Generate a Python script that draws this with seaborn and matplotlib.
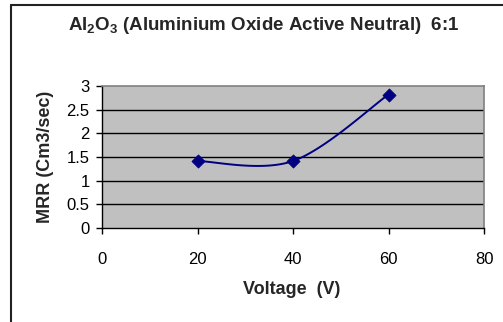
import numpy as np
import pandas as pd
import matplotlib
matplotlib.use("Agg")
import matplotlib.pyplot as plt
import seaborn as sns

voltage = [20, 40, 60]
mrr = [1.415, 1.415, 2.82]
x_ticks = [0, 20, 40, 60, 80]
y_ticks = [0, 0.5, 1, 1.5, 2, 2.5, 3]
title = r"Al$_2$O$_3$ (Aluminium Oxide Active Neutral)  6:1"
x_label = "Voltage  (V)"
y_label = "MRR (Cm3/sec)"

sns.set_theme(style="white")
plt.rcParams['font.family'] = ['Liberation Sans', 'DejaVu Sans']
plt.rcParams['mathtext.fontset'] = 'custom'
plt.rcParams['mathtext.rm'] = 'Liberation Sans:bold'
plt.rcParams['mathtext.it'] = 'Liberation Sans:bold'
plt.rcParams['mathtext.bf'] = 'Liberation Sans:bold'


def excel_smooth(xs, ys, n=40):
    pts = np.column_stack([xs, ys]).astype(float)
    out = [pts[0]]
    for i in range(len(pts) - 1):
        p0 = pts[i - 1] if i > 0 else pts[i]
        p1 = pts[i]
        p2 = pts[i + 1]
        p3 = pts[i + 2] if i + 2 < len(pts) else pts[i + 1]
        c1 = p1 + (p2 - p0) / 6
        c2 = p2 - (p3 - p1) / 6
        t = np.linspace(0, 1, n)[1:, None]
        seg = ((1 - t) ** 3) * p1 + 3 * ((1 - t) ** 2) * t * c1 + 3 * (1 - t) * t ** 2 * c2 + t ** 3 * p2
        out.extend(seg)
    out = np.array(out)
    return out[:, 0], out[:, 1]


W, H = 503, 322
fig = plt.figure(figsize=(W / 100, H / 100), dpi=100)
fig.patch.set_facecolor("white")
ax = fig.add_axes([102 / W, 1 - 228 / H, (484 - 102) / W, (228 - 86) / H])
ax.set_facecolor("#C0C0C0")

sx, sy = excel_smooth(voltage, mrr)
smooth_df = pd.DataFrame({"Voltage": sx, "MRR": sy})
pts_df = pd.DataFrame({"Voltage": voltage, "MRR": mrr})
sns.lineplot(data=smooth_df, x="Voltage", y="MRR", ax=ax, color="#000080", linewidth=1.4, sort=False, zorder=3)
sns.scatterplot(data=pts_df, x="Voltage", y="MRR", ax=ax, color="#000080", marker="D", s=45, edgecolor="#000080", zorder=4)

ax.set_xlim(0, 80)
ax.set_ylim(0, 3)
ax.set_xticks(x_ticks)
ax.set_yticks(y_ticks)
ax.set_xticklabels([str(v) for v in x_ticks])
ax.set_yticklabels([f"{v:g}" for v in y_ticks])
for v in y_ticks[1:-1]:
    ax.axhline(v, color="black", linewidth=1.0, zorder=1)

for s in ["top", "right"]:
    ax.spines[s].set_color("#808080")
    ax.spines[s].set_linewidth(1.2)
for s in ["left", "bottom"]:
    ax.spines[s].set_color("black")
    ax.spines[s].set_linewidth(1.0)

ax.tick_params(axis="both", which="major", direction="out", length=4, width=1, color="black",
               labelsize=12, labelcolor="black", bottom=True, left=True)
ax.tick_params(axis="x", pad=13)
ax.tick_params(axis="y", pad=5)
ax.set_xlabel("")
ax.set_ylabel("")
fig.text(292 / W, 1 - 289 / H, x_label, ha="center", va="center", fontsize=13, fontweight="bold")
fig.text(45 / W, 1 - 157 / H, y_label, ha="center", va="center", fontsize=13, fontweight="bold", rotation=90)

fig.text(264 / W, 1 - 25 / H, title, ha="center", va="center", fontsize=13.5, fontweight="bold")

# chart border (top and left visible)
fig.add_artist(plt.Line2D([10.5 / W, 1], [1 - 4.5 / H, 1 - 4.5 / H], color="#222222", linewidth=1.5, transform=fig.transFigure))
fig.add_artist(plt.Line2D([10.5 / W, 10.5 / W], [0, 1 - 4.5 / H], color="#222222", linewidth=1.5, transform=fig.transFigure))

fig.savefig("out.png", dpi=100)
